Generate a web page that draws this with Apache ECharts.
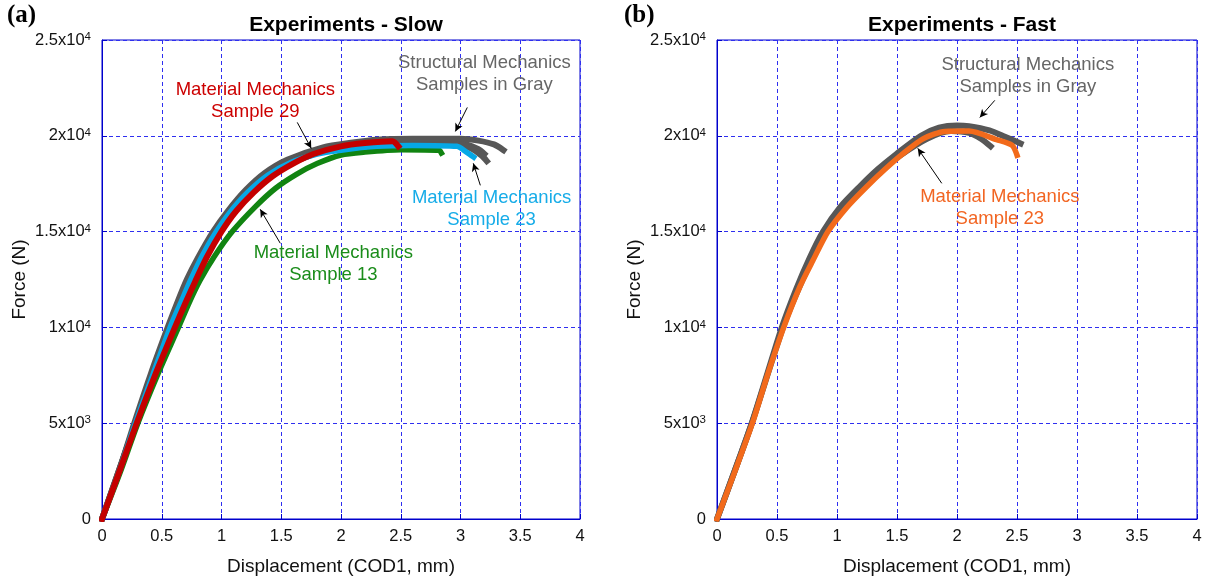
<!DOCTYPE html>
<html><head><meta charset="utf-8">
<script src="https://cdn.jsdelivr.net/npm/echarts@6/dist/echarts.min.js"></script>
<style>html,body{margin:0;padding:0;background:#fff}#c{width:1211px;height:584px}</style>
</head><body><div id="c"></div>
<script>
// ---------------- DATA ----------------
const xTickValues = [0, 0.5, 1, 1.5, 2, 2.5, 3, 3.5, 4];
const xTickLabels = ['0', '0.5', '1', '1.5', '2', '2.5', '3', '3.5', '4'];
const yTickValues = [0, 5000, 10000, 15000, 20000, 25000];
const yTickLabels = ['0', '5x10^3', '1x10^4', '1.5x10^4', '2x10^4', '2.5x10^4'];

const panelTitles = ['Experiments - Slow', 'Experiments - Fast'];
const panelTags = ['(a)', '(b)'];
const xAxisName = 'Displacement (COD1, mm)';
const yAxisName = 'Force (N)';

// Slow panel — structural mechanics samples (gray)
const slowGray1X = [0, 0.14, 0.27, 0.41, 0.55, 0.63, 0.71, 0.8, 0.93, 1.05, 1.2, 1.36, 1.55, 1.85, 2.1, 2.3, 2.6, 3.0, 3.15, 3.28, 3.36];
const slowGray1F = [0, 2450, 5000, 7600, 10000, 11300, 12500, 13600, 15000, 16050, 17150, 18050, 18750, 19400, 19650, 19800, 19850, 19850, 19750, 19550, 19250];
const slowGray2X = [0, 0.28, 0.56, 0.72, 0.95, 1.2, 1.4, 1.8, 2.2, 2.6, 2.9, 3.05, 3.15, 3.2];
const slowGray2F = [0, 5000, 10000, 12450, 15000, 17050, 18050, 19150, 19550, 19650, 19650, 19550, 19300, 19050];
const slowGray3X = [0, 0.28, 0.57, 0.73, 0.96, 1.21, 1.4, 1.8, 2.2, 2.6, 3.0, 3.1, 3.18, 3.22];
const slowGray3F = [0, 5000, 10000, 12400, 15000, 17000, 18000, 19100, 19500, 19600, 19550, 19300, 18950, 18680];
// Slow panel — material mechanics samples
const slowS13X = [0, 0.15, 0.3, 0.47, 0.64, 0.73, 0.82, 0.94, 1.09, 1.28, 1.45, 1.63, 1.8, 2.0, 2.2, 2.5, 2.82, 2.84];
const slowS13F = [0, 2400, 5000, 7600, 10000, 11300, 12450, 13700, 15000, 16280, 17250, 18000, 18550, 19000, 19150, 19270, 19240, 19100];
const slowS23X = [0, 0.14, 0.28, 0.43, 0.57, 0.66, 0.74, 0.84, 0.957, 1.07, 1.22, 1.39, 1.58, 1.8, 2.0, 2.3, 2.6, 2.97, 3.05, 3.11];
const slowS23F = [0, 2400, 5000, 7600, 10000, 11300, 12450, 13750, 15000, 16000, 17050, 17950, 18600, 19050, 19250, 19450, 19500, 19450, 19150, 18890];
const slowS29X = [0, 0.14, 0.29, 0.45, 0.61, 0.7, 0.78, 0.88, 1.0, 1.12, 1.27, 1.43, 1.6, 1.77, 2.0, 2.2, 2.43, 2.48];
const slowS29F = [0, 2380, 5000, 7600, 10000, 11300, 12400, 13700, 15000, 16050, 17050, 17900, 18550, 19050, 19450, 19620, 19720, 19450];

// Fast panel
const fastGray1X = [0, 0.15, 0.29, 0.42, 0.54, 0.66, 0.77, 0.884, 1.03, 1.19, 1.34, 1.495, 1.7, 1.85, 2.0, 2.1, 2.27, 2.4, 2.53];
const fastGray1F = [0, 2550, 5000, 7600, 10000, 12000, 13600, 15000, 16300, 17350, 18250, 19050, 20000, 20420, 20540, 20500, 20280, 19950, 19600];
const fastGray2X = [0, 0.29, 0.55, 0.7, 0.9, 1.05, 1.2, 1.36, 1.52, 1.75, 1.95, 2.1, 2.2, 2.28];
const fastGray2F = [0, 5000, 10000, 12300, 15000, 16300, 17250, 18150, 18950, 19850, 20250, 20150, 19850, 19450];
const fastS23X = [0, 0.15, 0.295, 0.42, 0.556, 0.69, 0.8, 0.925, 1.08, 1.245, 1.4, 1.55, 1.72, 1.9, 2.1, 2.33, 2.46, 2.5];
const fastS23F = [0, 2500, 5000, 7500, 10000, 12113, 13500, 15000, 16250, 17326, 18250, 19068, 19850, 20230, 20250, 19800, 19500, 18990];

// Annotations: [panel, x, F, text lines, color]
const noteText = [
  [0, 1.283, 21800, ['Material Mechanics', 'Sample 29'], '#cc0000'],
  [0, 3.20, 23250, ['Structural Mechanics', 'Samples in Gray'], '#666666'],
  [0, 3.26, 16160, ['Material Mechanics', 'Sample 23'], '#16ace8'],
  [0, 1.936, 13300, ['Material Mechanics', 'Sample 13'], '#1a8c1a'],
  [1, 2.59, 23150, ['Structural Mechanics', 'Samples in Gray'], '#666666'],
  [1, 2.357, 16220, ['Material Mechanics', 'Sample 23'], '#f26522']
];
// Arrows: [panel, x0, F0, x1, F1] (tail -> head)
const noteArrows = [
  [0, 1.634, 20700, 1.751, 19344],
  [0, 3.057, 21480, 2.957, 20230],
  [0, 3.166, 17415, 3.107, 18562],
  [0, 1.492, 14390, 1.324, 16164],
  [1, 2.315, 21850, 2.19, 20960],
  [1, 1.873, 17520, 1.673, 19344]
];

// ---------------- CHART ----------------
const FONT = 'Liberation Sans, Arial, Helvetica, sans-serif';
const BLUE = '#0000cc';
const GRID_BLUE = '#2f2ff0';
const grids = [
  {left: 102, top: 40, width: 478, height: 479},
  {left: 717, top: 40, width: 480, height: 479}
];

function fmtY(v) {
  const i = yTickValues.indexOf(v);
  if (i < 0) return '';
  const p = yTickLabels[i].split('^');
  return p.length > 1 ? '{b|' + p[0] + '}{s|' + p[1] + '}' : '{b|' + p[0] + '}';
}
function fmtX(v) {
  const i = xTickValues.findIndex(t => Math.abs(t - v) < 1e-9);
  return i < 0 ? '' : xTickLabels[i];
}
function zip(xs, ys) { return xs.map((x, i) => [x, ys[i]]); }
function line(xs, ys, color, p, w) {
  return {
    type: 'line', xAxisIndex: p, yAxisIndex: p, data: zip(xs, ys),
    symbol: 'none', smooth: 0.25,
    lineStyle: {color: color, width: w || 6, cap: 'square', join: 'round'}, silent: true, animation: false
  };
}

const GRAY = '#575757';
const series = [
  line(slowGray2X, slowGray2F, GRAY, 0),
  line(slowGray3X, slowGray3F, GRAY, 0),
  line(slowGray1X, slowGray1F, GRAY, 0),
  line(slowS13X, slowS13F, '#118411', 0, 5.5),
  line(slowS23X, slowS23F, '#06a8e6', 0, 5.5),
  line(slowS29X, slowS29F, '#c40000', 0),
  line(fastGray2X, fastGray2F, GRAY, 1),
  line(fastGray1X, fastGray1F, GRAY, 1),
  line(fastS23X, fastS23F, '#f26a1b', 1, 5.5)
];
// arrow carrier series
[0, 1].forEach(p => {
  series.push({
    type: 'line', xAxisIndex: p, yAxisIndex: p, data: [], silent: true, animation: false,
    markLine: {
      silent: true, animation: false, symbol: ['none', 'arrow'], symbolSize: [6, 8],
      label: {show: false},
      lineStyle: {color: '#000', width: 1, type: 'solid'},
      emphasis: {disabled: true},
      data: noteArrows.filter(a => a[0] === p).map(a => [{coord: [a[1], a[2]]}, {coord: [a[3], a[4]]}])
    }
  });
});

function xAxis(p) {
  return {
    type: 'value', gridIndex: p, min: 0, max: 4, interval: 0.5,
    name: xAxisName, nameLocation: 'middle', nameGap: 38,
    nameTextStyle: {fontFamily: FONT, fontSize: 19, color: '#111'},
    axisLine: {show: true, onZero: false, lineStyle: {color: BLUE, width: 1}},
    axisTick: {show: true, inside: true, length: 5, lineStyle: {color: BLUE}},
    axisLabel: {formatter: fmtX, fontFamily: FONT, fontSize: 16.5, color: '#111', margin: 9},
    splitLine: {show: true, lineStyle: {color: GRID_BLUE, type: [4, 3], width: 1}}
  };
}
function yAxis(p) {
  return {
    type: 'value', gridIndex: p, min: 0, max: 25000, interval: 5000,
    name: yAxisName, nameLocation: 'middle', nameGap: 73, nameRotate: 90,
    nameTextStyle: {fontFamily: FONT, fontSize: 19, color: '#111'},
    axisLine: {show: true, onZero: false, lineStyle: {color: BLUE, width: 1}},
    axisTick: {show: true, inside: true, length: 5, lineStyle: {color: BLUE}},
    axisLabel: {
      formatter: fmtY, margin: 11, color: '#111',
      rich: {
        b: {fontFamily: FONT, fontSize: 16.5, color: '#111', lineHeight: 18},
        s: {fontFamily: FONT, fontSize: 11.5, color: '#111', lineHeight: 10, verticalAlign: 'top'}
      }
    },
    splitLine: {show: true, lineStyle: {color: GRID_BLUE, type: [4, 3], width: 1}}
  };
}

const chart = echarts.init(document.getElementById('c'), null, {renderer: 'canvas'});
chart.setOption({
  backgroundColor: '#fff',
  animation: false,
  title: panelTitles.map((t, p) => ({
    text: t, left: grids[p].left + grids[p].width / 2, top: 10, textAlign: 'center',
    textStyle: {fontFamily: FONT, fontSize: 21, fontWeight: 'bold', color: '#000'}
  })),
  grid: grids.map(g => Object.assign({show: true, borderColor: BLUE, borderWidth: 1, backgroundColor: 'transparent', containLabel: false}, g)),
  xAxis: [xAxis(0), xAxis(1)],
  yAxis: [yAxis(0), yAxis(1)],
  series: series
});

// text annotations positioned from data coordinates
const graphics = [];
panelTags.forEach((t, p) => {
  graphics.push({
    type: 'text', left: p === 0 ? 7 : 624, top: 3,
    style: {text: t, font: 'bold 25px "Liberation Serif", "Times New Roman", serif', fill: '#000'}
  });
});
noteText.forEach(n => {
  const pt = chart.convertToPixel({gridIndex: n[0]}, [n[1], n[2]]);
  graphics.push({
    type: 'text', x: pt[0], y: pt[1],
    style: {
      text: n[3].join('\n'), fill: n[4], align: 'center', verticalAlign: 'middle',
      font: '18.5px ' + FONT, lineHeight: 22
    }
  });
});
chart.setOption({graphic: graphics});
</script></body></html>
